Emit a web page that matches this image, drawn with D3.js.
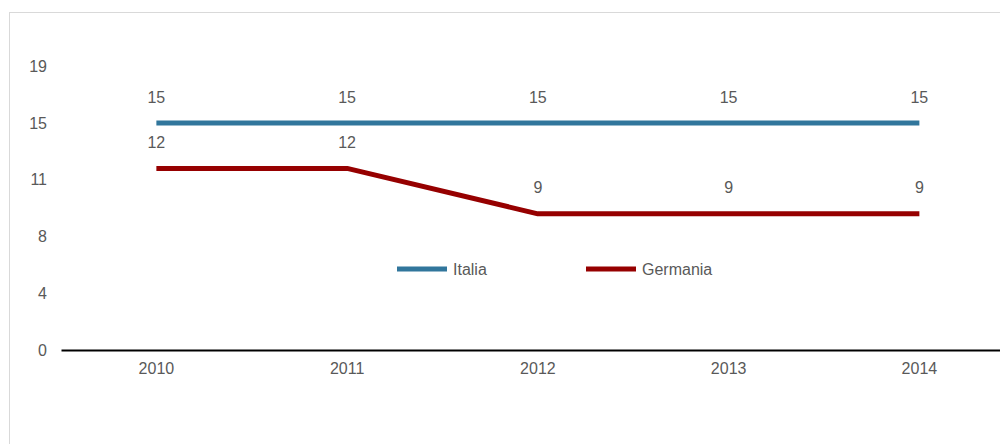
<!DOCTYPE html>
<html>
<head>
<meta charset="utf-8">
<script src="https://cdn.jsdelivr.net/npm/d3@7"></script>
<style>
  html, body { margin: 0; padding: 0; background: #fff; }
  svg { display: block; }
  text { font-family: "Liberation Sans", Arial, sans-serif; fill: #595959; }
</style>
</head>
<body>
<svg id="chart" width="1000" height="444"></svg>
<script>
// Years and series values
const years = ["2010", "2011", "2012", "2013", "2014"];
const italia = [15, 15, 15, 15, 15];
const germania = [12, 12, 9, 9, 9];
const seriesNames = ["Italia", "Germania"];
const seriesColors = ["#31769c", "#960000"];
// Axis ticks step by 3.75, shown rounded
const yTicks = [0, 3.75, 7.5, 11.25, 15, 18.75];

const FONT = 16;
const svg = d3.select("#chart");
const W = 1000, H = 444;

// light outer frame
svg.append("rect")
  .attr("x", 9.5).attr("y", 12.5)
  .attr("width", W + 20).attr("height", H + 20)
  .attr("fill", "none").attr("stroke", "#d9d9d9").attr("stroke-width", 1);

const x = d3.scaleBand().domain(years).range([61, 1014.75]);
const y = d3.scaleLinear().domain([0, 18.75]).range([350, 66.3]);
const cx = d => x(d) + x.bandwidth() / 2;

// y tick labels
const yAxis = d3.axisLeft(y).tickValues(yTicks).tickSize(0).tickPadding(0)
  .tickFormat(d => d3.format(".0f")(Math.round(d)));
const gy = svg.append("g").attr("transform", "translate(47,0)").call(yAxis);
gy.select(".domain").remove();
gy.selectAll("text").attr("font-size", FONT).attr("fill", "#595959")
  .style("font-family", "'Liberation Sans', Arial, sans-serif");

// x axis
const xAxis = d3.axisBottom(x).tickSize(0).tickPadding(13);
const gx = svg.append("g").attr("transform", "translate(0,350)").call(xAxis);
gx.select(".domain").attr("stroke", "#000").attr("stroke-width", 2.2);
gx.selectAll("text").attr("font-size", FONT).attr("fill", "#595959")
  .style("font-family", "'Liberation Sans', Arial, sans-serif");

const series = [italia, germania];
const line = d3.line().x((d, i) => cx(years[i])).y(d => y(d));

series.forEach((vals, s) => {
  svg.append("path")
    .datum(vals)
    .attr("d", line)
    .attr("fill", "none")
    .attr("stroke", seriesColors[s])
    .attr("stroke-width", 5)
    .attr("stroke-linejoin", "round");

  svg.append("g").selectAll("text")
    .data(vals)
    .join("text")
    .attr("x", (d, i) => cx(years[i]))
    .attr("y", d => y(d) - 20.5)
    .attr("text-anchor", "middle")
    .attr("font-size", FONT)
    .text(d => d);
});

// legend
const legendX = [397, 586];
const legendY = 269;
seriesNames.forEach((name, s) => {
  const g = svg.append("g").attr("transform", `translate(${legendX[s]},${legendY})`);
  g.append("line").attr("x1", 0).attr("x2", 50).attr("y1", 0).attr("y2", 0)
    .attr("stroke", seriesColors[s]).attr("stroke-width", 5);
  g.append("text").attr("x", 56).attr("y", 6).attr("font-size", FONT).text(name);
});
</script>
</body>
</html>
